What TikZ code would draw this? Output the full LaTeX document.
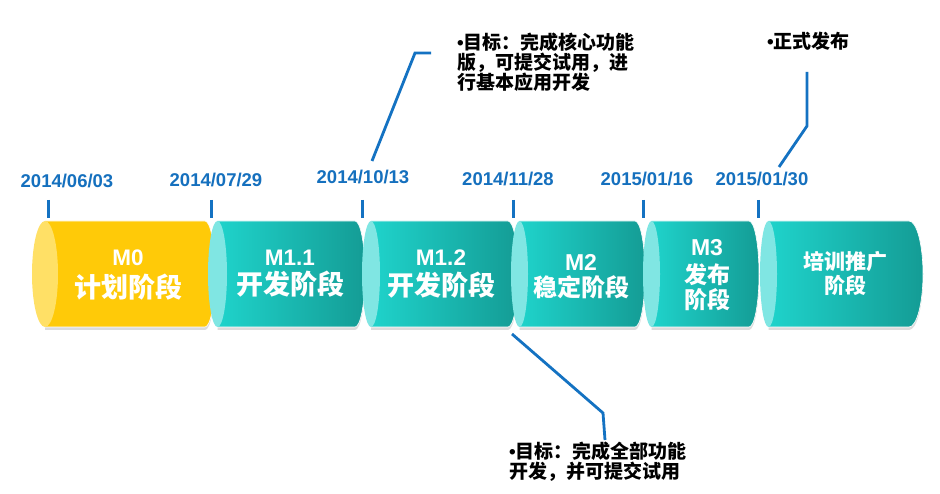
\documentclass[tikz,border=0pt]{standalone}
\usepackage{fontspec}
\setmainfont{Liberation Sans}
\newfontfamily\latinf{Liberation Sans}
\newfontfamily\cjk{Noto Sans CJK SC}
\definecolor{dateblue}{HTML}{1570BE}
\definecolor{linkblue}{HTML}{1472C2}
\definecolor{tealL}{HTML}{1FD3CB}
\definecolor{tealR}{HTML}{149C95}
\definecolor{tealcap}{HTML}{80E6E3}
\definecolor{yellowbody}{HTML}{FFCA08}
\definecolor{yellowcap}{HTML}{FFE066}
% #1 left, #2 right, #3 left face x-radius, #4 right end radius, #5 body style, #6 cap colour
\newcommand\mycyl[6]{%
  \fill[black!30,opacity=.45] ({#1+#3},224) -- ({#2-#4},224)
     arc[start angle=-90,end angle=90,x radius=#4,y radius=53] -- ({#1+#3},330) -- cycle;
  \path[#5,draw=white,line width=.6pt] ({#1+#3},221) -- ({#2-#4},221)
     arc[start angle=-90,end angle=90,x radius=#4,y radius=53] -- ({#1+#3},327) -- cycle;
  \fill[#6] ({#1+#3},274) ellipse[x radius=#3,y radius=53];
}
\tikzset{
  tealbody/.style={left color=tealL,right color=tealR},
  yellowfill/.style={fill=yellowbody},
  datelabel/.style={text=dateblue,font=\bfseries\fontsize{18.5}{20}\selectfont,inner sep=0pt},
  ticksty/.style={draw=linkblue,line width=3pt},
  calloutline/.style={draw=linkblue,line width=2.8pt},
  segM/.style={text=white,font=\bfseries\fontsize{22.5}{24}\selectfont,inner sep=0pt},
  segC/.style={text=white,font=\cjk\bfseries\fontsize{27}{30}\selectfont,inner sep=0pt},
  callout/.style={text=black,font=\cjk\bfseries\fontsize{19}{20}\selectfont,align=left,anchor=north west,inner sep=0pt},
}
\begin{document}
\begin{tikzpicture}[x=1pt,y=-1pt]
\useasboundingbox[fill=white] (0,0) rectangle (940,494);

% cylinders
\mycyl{32}{215}{13}{10}{yellowfill}{yellowcap}
\mycyl{208}{365}{9.5}{10}{tealbody}{tealcap}
\mycyl{362}{518}{9}{10}{tealbody}{tealcap}
\mycyl{511}{645}{8.5}{10}{tealbody}{tealcap}
\mycyl{643}{759}{8.5}{10}{tealbody}{tealcap}
\mycyl{760}{923}{8.5}{14}{tealbody}{tealcap}

% segment labels
\node[segM] (m0a) at (128,258) {M0};
\node[segC] (m0b) at (128,287) {计划阶段};
\node[segM] (m11a) at (290,258) {M1.1};
\node[segC] (m11b) at (290,284) {开发阶段};
\node[segM] (m12a) at (441,258) {M1.2};
\node[segC] (m12b) at (441,285) {开发阶段};
\node[segM,font=\bfseries\fontsize{23}{24}\selectfont] (m2a) at (581,262) {M2};
\node[segC,font=\cjk\bfseries\fontsize{24}{26}\selectfont] (m2b) at (581,287) {稳定阶段};
\node[segM,font=\bfseries\fontsize{23}{24}\selectfont] (m3a) at (707,248) {M3};
\node[segC,font=\cjk\bfseries\fontsize{23}{26}\selectfont] (m3b) at (707,275) {发布};
\node[segC,font=\cjk\bfseries\fontsize{23}{26}\selectfont] (m3c) at (707,300) {阶段};
\node[segC,font=\cjk\bfseries\fontsize{21}{24}\selectfont] (m4a) at (845,262) {培训推广};
\node[segC,font=\cjk\bfseries\fontsize{21}{24}\selectfont] (m4b) at (845,285) {阶段};

% dates
\node[datelabel] (d1) at (67,181) {2014/06/03};
\node[datelabel] (d2) at (216,180) {2014/07/29};
\node[datelabel] (d3) at (363,177) {2014/10/13};
\node[datelabel] (d4) at (508,179) {2014/11/28};
\node[datelabel] (d5) at (647,179) {2015/01/16};
\node[datelabel] (d6) at (762,179) {2015/01/30};

% ticks
\coordinate (t1a) at (48,200);  \coordinate (t1b) at (48,218);
\coordinate (t2a) at (211,200); \coordinate (t2b) at (211,218);
\coordinate (t3a) at (362,200); \coordinate (t3b) at (362,218);
\coordinate (t4a) at (513,200); \coordinate (t4b) at (513,218);
\coordinate (t5a) at (643,200); \coordinate (t5b) at (643,218);
\coordinate (t6a) at (758,200); \coordinate (t6b) at (758,218);
\foreach \i in {1,...,6} \draw[ticksty] (t\i a) -- (t\i b);

% callouts
\node[callout] (c1) at (457,33) {{\latinf •}目标：完成核心功能\\版，可提交试用，进\\行基本应用开发};
\node[callout] (c2) at (509,442) {{\latinf •}目标：完成全部功能\\开发，并可提交试用};
\node[callout] (c3) at (767,32) {{\latinf •}正式发布};

\coordinate (l1a) at (372,161); \coordinate (l1b) at (415,53); \coordinate (l1c) at (431,53);
\draw[calloutline] (l1a) -- (l1b) -- (l1c);
\coordinate (l2a) at (512,334); \coordinate (l2b) at (603,413); \coordinate (l2c) at (605,440);
\draw[calloutline] (l2a) -- (l2b) -- (l2c);
\coordinate (l3a) at (779,167); \coordinate (l3b) at (807,126); \coordinate (l3c) at (807,72);
\draw[calloutline] (l3a) -- (l3b) -- (l3c);
\end{tikzpicture}
\end{document}
